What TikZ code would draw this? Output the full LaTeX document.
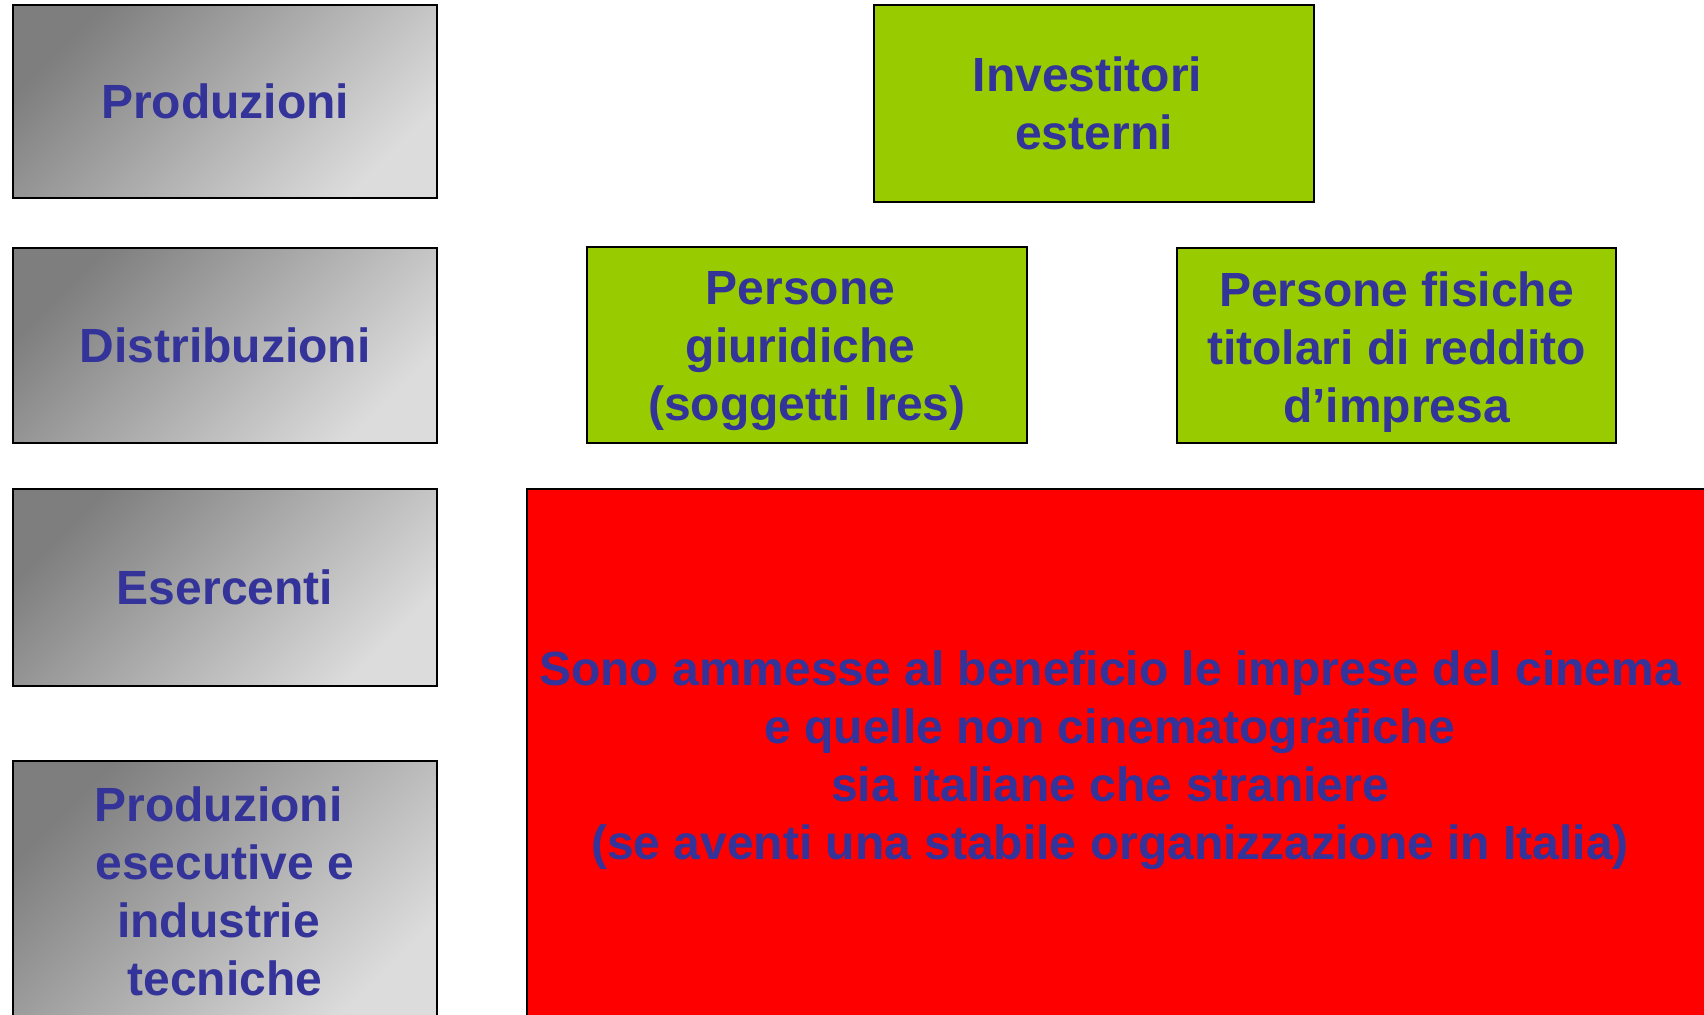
\documentclass[tikz,border=0pt]{standalone}
\usepackage{fontspec}
\setmainfont{Liberation Sans}
\definecolor{txtblue}{HTML}{333399}
\definecolor{boxgreen}{HTML}{99CC00}
\definecolor{boxred}{HTML}{FF0000}
\definecolor{gdark}{HTML}{7E7E7E}
\definecolor{glight}{HTML}{DCDCDC}
\newcommand{\tsp}{\kern6.5pt\relax}
\tikzset{
  lbl/.style={font=\fontsize{24}{29}\selectfont\bfseries, text=txtblue, align=center},
  graybox/.style={lbl, draw=black, line width=1pt, inner sep=0pt,
    top color=gdark, bottom color=glight, shading angle=45,
    minimum width=212pt},
  greenbox/.style={lbl, draw=black, line width=0.9pt, inner sep=0pt, fill=boxgreen,
    minimum width=220pt},
  redbox/.style={draw=black, line width=0.9pt, inner sep=0pt, fill=boxred}
}
\begin{document}
\begin{tikzpicture}[x=0.5pt,y=-0.5pt]
\clip (0,0) rectangle (1704,1015);
\fill[white] (0,0) rectangle (1704,1015);
% left column
\node[graybox, minimum height=96.5pt] (prod) at (225,101.5) {Produzioni};
\node[graybox, minimum height=97.5pt] (distr) at (225,345.5) {Distribuzioni};
\node[graybox, minimum height=98.5pt] (eser) at (225,587.5) {Esercenti};
\node[graybox, minimum height=130.5pt] (prodese) at (225,891.5) {Produzioni\tsp\\esecutive e\\industrie\tsp\\tecniche};
% green boxes
\node[greenbox, minimum height=98.5pt] (inv) at (1094,103.5) {Investitori\tsp\\esterni};
\node[greenbox, minimum height=98pt] (pgiur) at (807,345) {};
\node[lbl] (pgiurtxt) at (807,351.5) {Persone\tsp\\giuridiche\tsp\\(soggetti Ires)};
\node[greenbox, minimum width=219.5pt, minimum height=97.5pt] (pfis) at (1396.5,345.5) {};
\node[lbl] (pfistxt) at (1396.5,352) {Persone fisiche\\titolari di reddito\\d’impresa};
% red box
\node[redbox, minimum width=596.5pt, minimum height=270.5pt] (red) at (1123.5,759.5) {};
\node[lbl] (redtxt) at (1110,760.5) {Sono ammesse al beneficio le imprese del cinema\\e quelle non cinematografiche\\sia italiane che straniere\\(se aventi una stabile organizzazione in Italia)};
\end{tikzpicture}
\end{document}
